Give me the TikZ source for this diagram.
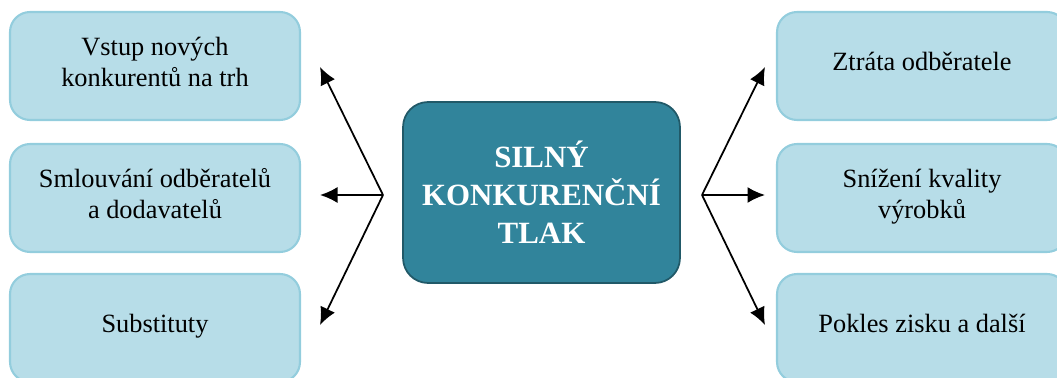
\documentclass[tikz,border=0pt]{standalone}
\usepackage{fontspec}
\setmainfont{Liberation Serif}
\usetikzlibrary{arrows.meta}
\tikzset{>={Latex[length=3.5mm,width=3.2mm]}}
\definecolor{clbox}{HTML}{B7DDE8}
\definecolor{clboxb}{HTML}{93CDDD}
\definecolor{clmid}{HTML}{31849B}
\definecolor{clmidb}{HTML}{215968}
\tikzset{
    side/.style={draw=clboxb, line width=1.2pt, fill=clbox, rounded corners=0.4cm,
        minimum width=5.8cm, minimum height=2.16cm, align=center,
        text depth=0.5em, font=\fontsize{15}{17.6}\selectfont},
    hub/.style={draw=clmidb, line width=1pt, fill=clmid, rounded corners=0.5cm,
        minimum width=5.54cm, minimum height=3.62cm, align=center, text=white,
        font=\bfseries\fontsize{17.6}{21.6}\selectfont},
}

\begin{document}
\begin{tikzpicture}[x=0.02cm, y=-0.02cm]
    \clip(0, 0) rectangle (1057, 378);
    \node[side](vstup) at (155, 66){Vstup nových\\konkurentů na trh};
    \node[side](smlouv) at (155, 198){Smlouvání odběratelů\\a dodavatelů};
    \node[side](subst) at (155, 328){Substituty};
    \node[side](ztrata) at (922, 66){Ztráta odběratele};
    \node[side](kvalita) at (922, 198){Snížení kvality\\výrobků};
    \node[side](pokles) at (922, 328){Pokles zisku a další};
    \node[hub](tlak) at (541.5, 192.5){SILNÝ\\KONKURENČNÍ\\TLAK};
    % arrow hubs and tips
    \coordinate(hl) at (383, 195);
    \coordinate(hr) at (702, 195);
    \coordinate(tl1) at (320, 67);
    \coordinate(tl2) at (320, 195);
    \coordinate(tl3) at (320, 325);
    \coordinate(tr1) at (765, 67);
    \coordinate(tr2) at (765, 195);
    \coordinate(tr3) at (765, 325);
    \foreach \t in {tl1, tl2, tl3}
        \draw[line width=1pt, ->](hl)--(\t);
    \foreach \t in {tr1, tr2, tr3}
        \draw[line width=1pt, ->](hr)--(\t);
\end{tikzpicture}
\end{document}
